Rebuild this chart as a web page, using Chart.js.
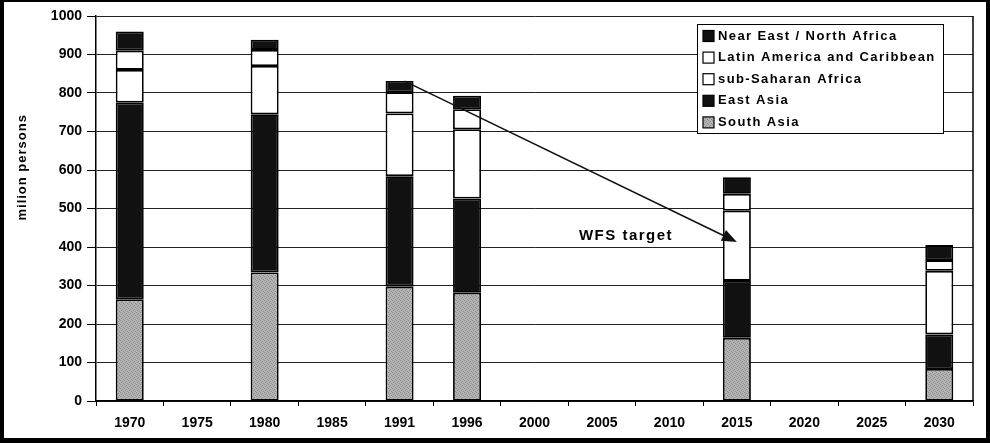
<!DOCTYPE html>
<html>
<head>
<meta charset="utf-8">
<script src="https://cdn.jsdelivr.net/npm/chart.js@4/dist/chart.umd.min.js"></script>
<style>
  html, body { margin: 0; padding: 0; background: #fff; }
  #wrap { width: 990px; height: 443px; position: relative; }
</style>
</head>
<body>
<div id="wrap"><canvas id="hungerChart" width="990" height="443"></canvas></div>
<script>
// data (million persons)
const years = ['1970', '1975', '1980', '1985', '1991', '1996', '2000', '2005', '2010', '2015', '2020', '2025', '2030'];
const southAsia    = [264, null, 334, null, 297, 281, null, null, null, 164, null, null, 83];
const eastAsia     = [511, null, 411, null, 287, 245, null, null, null, 148, null, null, 90];
const subSaharan   = [85,  null, 125, null, 163, 180, null, null, null, 182, null, null, 165];
const latinAmerica = [50,  null, 42,  null, 55,  52,  null, null, null, 44,  null, null, 28];
const nearEast     = [50,  null, 26,  null, 29,  35,  null, null, null, 43,  null, null, 39];
const yTicks = [0, 100, 200, 300, 400, 500, 600, 700, 800, 900, 1000];

// WFS target arrow: from top of 1991 bar down to target in 2015
const arrowFrom = { year: '1991', value: 831 };
const arrowTo = { year: '2015', value: 413 };
const targetLabel = 'WFS target';
const yTitle = 'milion persons';

// grey stipple used for South Asia
function stipple() {
  const c = document.createElement('canvas');
  c.width = 4; c.height = 4;
  const g = c.getContext('2d');
  g.fillStyle = '#b4b4b4';
  g.fillRect(0, 0, 4, 4);
  g.fillStyle = '#8a8a8a';
  [[0, 0], [2, 1], [1, 2], [3, 3]].forEach(p => g.fillRect(p[0], p[1], 1, 1));
  return g.createPattern(c, 'repeat');
}

const FONT = '"Liberation Sans", Arial, sans-serif';

const framePlugin = {
  id: 'frame',
  beforeDraw(chart) {
    const ctx = chart.ctx;
    ctx.save();
    ctx.fillStyle = '#fff';
    ctx.fillRect(0, 0, chart.width, chart.height);
    ctx.restore();
  },
  afterDraw(chart) {
    const ctx = chart.ctx;
    const a = chart.chartArea;
    ctx.save();
    // right edge of plot
    ctx.strokeStyle = '#000';
    ctx.lineWidth = 1.5;
    ctx.beginPath();
    ctx.moveTo(a.right, a.top);
    ctx.lineTo(a.right, a.bottom);
    ctx.stroke();
    // y axis title, sits a bit above the middle like the original
    ctx.translate(22, chart.scales.y.getPixelForValue(607));
    ctx.rotate(-Math.PI / 2);
    ctx.font = 'bold 13px ' + FONT;
    ctx.letterSpacing = '1px';
    ctx.textAlign = 'center';
    ctx.textBaseline = 'middle';
    ctx.fillStyle = '#000';
    ctx.fillText(yTitle, 0, 0);
    ctx.setTransform(1, 0, 0, 1, 0, 0);
    // picture frame
    ctx.fillStyle = '#000';
    ctx.fillRect(0, 0, chart.width, 2);
    ctx.fillRect(0, 0, 4, chart.height);
    ctx.fillRect(chart.width - 4, 0, 4, chart.height);
    ctx.fillRect(0, chart.height - 5, chart.width, 5);
    ctx.restore();
  }
};

const notesPlugin = {
  id: 'notes',
  afterDatasetsDraw(chart) {
    const ctx = chart.ctx;
    const x = chart.scales.x, y = chart.scales.y;
    const a = chart.chartArea;
    ctx.save();

    // arrow
    const x1 = x.getPixelForValue(years.indexOf(arrowFrom.year)) + 5;
    const y1 = y.getPixelForValue(arrowFrom.value);
    const x2 = x.getPixelForValue(years.indexOf(arrowTo.year));
    const y2 = y.getPixelForValue(arrowTo.value);
    const ang = Math.atan2(y2 - y1, x2 - x1);
    const head = 15, half = 6;
    ctx.strokeStyle = '#111';
    ctx.fillStyle = '#111';
    ctx.lineWidth = 1.5;
    ctx.beginPath();
    ctx.moveTo(x1, y1);
    ctx.lineTo(x2 - head * Math.cos(ang), y2 - head * Math.sin(ang));
    ctx.stroke();
    ctx.beginPath();
    ctx.moveTo(x2, y2);
    ctx.lineTo(x2 - head * Math.cos(ang) + half * Math.sin(ang), y2 - head * Math.sin(ang) - half * Math.cos(ang));
    ctx.lineTo(x2 - head * Math.cos(ang) - half * Math.sin(ang), y2 - head * Math.sin(ang) + half * Math.cos(ang));
    ctx.closePath();
    ctx.fill();

    // label
    ctx.font = 'bold 15px ' + FONT;
    ctx.letterSpacing = '1.5px';
    ctx.textAlign = 'center';
    ctx.textBaseline = 'middle';
    ctx.fillStyle = '#000';
    ctx.fillText(targetLabel, 626, y.getPixelForValue(430));

    // legend box
    const items = chart.data.datasets.slice().reverse();
    const bw = 246, bh = 109;
    const bx = a.right - 30 - bw, by = a.top + 8;
    ctx.fillStyle = '#fff';
    ctx.fillRect(bx, by, bw, bh);
    ctx.strokeStyle = '#000';
    ctx.lineWidth = 1;
    ctx.strokeRect(bx + 0.5, by + 0.5, bw, bh);
    ctx.font = 'bold 13px ' + FONT;
    ctx.letterSpacing = '1.4px';
    ctx.textAlign = 'left';
    items.forEach((ds, i) => {
      const cy = by + 11.5 + i * 21.6;
      ctx.fillStyle = ds.backgroundColor;
      ctx.fillRect(bx + 6, cy - 5, 11, 11);
      ctx.strokeStyle = '#000';
      ctx.lineWidth = 1.2;
      ctx.strokeRect(bx + 6, cy - 5, 11, 11);
      ctx.fillStyle = '#000';
      ctx.fillText(ds.label, bx + 21, cy + 0.5);
    });
    ctx.restore();
  }
};

const ctx = document.getElementById('hungerChart').getContext('2d');
const grey = stipple();

function series(label, data, color) {
  return {
    label: label,
    data: data,
    backgroundColor: color,
    borderColor: '#000',
    borderWidth: 1.8,
    borderSkipped: false,
    categoryPercentage: 1,
    barPercentage: 0.415
  };
}

const hungerChart = new Chart(ctx, {
  type: 'bar',
  data: {
    labels: years,
    datasets: [
      series('South Asia', southAsia, grey),
      series('East Asia', eastAsia, '#111'),
      series('sub-Saharan Africa', subSaharan, '#fff'),
      series('Latin America and Caribbean', latinAmerica, '#fff'),
      series('Near East / North Africa', nearEast, '#111')
    ]
  },
  options: {
    responsive: false,
    animation: false,
    layout: { padding: { left: 0, right: 17, top: 16, bottom: 0 } },
    plugins: {
      legend: { display: false },
      tooltip: { enabled: false }
    },
    scales: {
      x: {
        stacked: true,
        offset: true,
        afterFit: s => { s.height = 42; },
        grid: {
          offset: true,
          drawOnChartArea: false,
          color: '#000',
          tickLength: 5,
          tickWidth: 1
        },
        border: { color: '#000', width: 1.5 },
        ticks: {
          color: '#000',
          padding: 9,
          font: { family: FONT, size: 14, weight: 'bold' }
        }
      },
      y: {
        stacked: true,
        min: 0,
        max: 1000,
        afterFit: s => { s.width = 96; },
        afterBuildTicks: s => { s.ticks = yTicks.map(v => ({ value: v })); },
        grid: {
          color: '#222',
          lineWidth: 1,
          tickLength: 9,
          tickColor: '#000'
        },
        border: { color: '#000', width: 1.5 },
        ticks: {
          color: '#000',
          padding: 5,
          callback: v => String(v),
          font: { family: FONT, size: 14, weight: 'bold' }
        }
      }
    }
  },
  plugins: [framePlugin, notesPlugin]
});
</script>
</body>
</html>
